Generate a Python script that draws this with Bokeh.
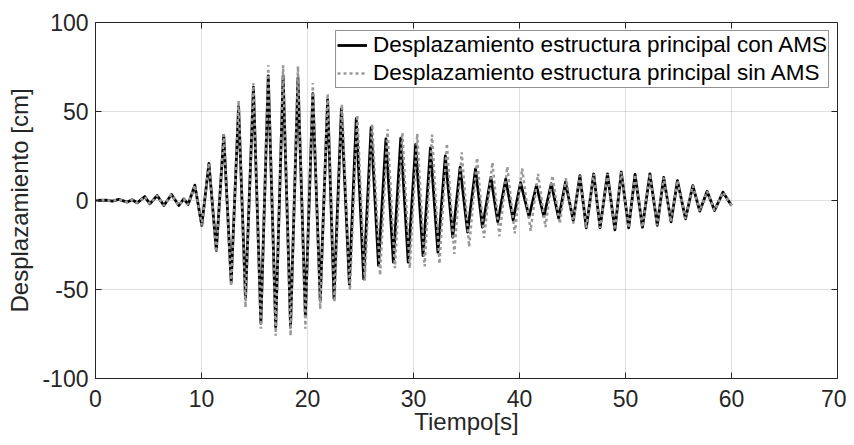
import math
from bokeh.plotting import figure
from bokeh.models import Range1d, FixedTicker, Legend, LegendItem
from bokeh.embed import file_html
from bokeh.resources import INLINE

# ---- data (extrema of each oscillation) ----
t_con = [0, 1.0, 1.6, 2.2, 3.0, 3.46, 3.93, 4.65, 5.13, 5.82, 6.45, 7.17, 7.86, 8.33, 8.74,
         9.37, 10.03, 10.7, 11.4, 12.1, 12.8, 13.5, 14.15, 14.9, 15.6, 16.3, 17.0, 17.7, 18.4,
         19.1, 19.8, 20.5, 21.2, 21.9, 22.5, 23.2, 23.95, 24.6, 25.3, 26.0, 26.7, 27.4, 28.1,
         28.8, 29.5, 30.2, 30.9, 31.6, 32.3, 33.0, 33.7, 34.4, 35.1, 35.85, 36.5, 37.3, 37.95,
         38.7, 39.4, 40.1, 40.9, 41.6, 42.3, 43.0, 43.7, 44.34, 45.07, 45.7, 46.3, 47.0, 47.6,
         48.3, 49.0, 49.6, 50.3, 50.9, 51.6, 52.3, 53.0, 53.6, 54.3, 54.9, 55.66, 56.35, 57.0,
         57.7, 58.4, 59.2, 60.0]
y_con = [0, 0.2, -0.3, 0.6, -0.9, 0.4, -1.3, 2.2, -1.9, 2.8, -2.8, 3.4, -2.8, 0.9, -2.2,
         8.6, -14, 20.8, -28, 36.5, -46, 53, -55, 63.7, -69, 70, -71, 70, -71,
         69, -65, 60, -56, 56.6, -55, 51.5, -47, 46, -44, 41, -36.5, 34.6, -34.6,
         35, -34.6, 31.5, -31, 29.5, -29, 25, -20.6, 18.7, -17.8, 17.8, -15, 13, -12,
         12, -11, 10, -9, 8.4, -9, 9.4, -10, 10.3, -11.2, 14, -15.4, 15, -15.4,
         15, -16.5, 16, -15.4, 14.6, -15, 15, -14, 13, -12, 11.2, -10.3, 8.4, -6,
         5.2, -5.6, 4.7, -2.8]

t_sin = [0, 1.0, 1.6, 2.2, 3.0, 3.46, 3.93, 4.65, 5.13, 5.82, 6.45, 7.17, 7.86, 8.33, 8.74,
         9.37, 10.03, 10.7, 11.4, 12.1, 12.8, 13.5, 14.15, 14.9, 15.6, 16.3, 17.0, 17.7, 18.4,
         19.1, 19.8, 20.5, 21.2, 21.9, 22.55, 23.25, 24.0, 24.7, 25.4, 26.1, 26.85, 27.55, 28.25,
         28.95, 29.65, 30.35, 31.05, 31.75, 32.45, 33.15, 33.85, 34.55, 35.25, 36.0, 36.65, 37.45, 38.1,
         38.85, 39.55, 40.25, 41.05, 41.75, 42.45, 43.1, 43.8, 44.4, 45.07, 45.7, 46.3, 47.0, 47.6,
         48.3, 49.0, 49.6, 50.3, 50.9, 51.6, 52.3, 53.0, 53.6, 54.3, 54.9, 55.66, 56.35, 57.0,
         57.7, 58.4, 59.2, 60.0]
y_sin = [0, 0.2, -0.3, 0.6, -0.9, 0.4, -1.3, 2.2, -1.9, 2.8, -2.8, 3.4, -2.8, 0.9, -2.2,
         8.6, -14, 21, -29, 37, -48, 56, -60, 66, -72, 76, -76, 76, -76,
         75.5, -72, 66, -61, 60, -57, 54, -50.5, 48, -45, 43, -42, 40, -38,
         38, -38, 37.5, -37, 37, -35.6, 32, -30, 27, -26, 24, -21, 21.5, -20,
         19, -18.5, 18, -17, 15, -15, 14, -13, 12.5, -13, 14, -15.4, 15, -15.4,
         15, -16.5, 16, -15.4, 14.6, -15, 15, -14, 13, -12, 11.2, -10.3, 8.4, -6,
         5.2, -5.6, 4.7, -2.8]

x_ticks = [0, 10, 20, 30, 40, 50, 60, 70]
y_ticks = [-100, -50, 0, 50, 100]
y_tick_labels = ["-100", "-50", "0", "50", "100"]
label_con = "Desplazamiento estructura principal con AMS"
label_sin = "Desplazamiento estructura principal sin AMS"
x_label = "Tiempo[s]"
y_label = "Desplazamiento [cm]"

FONT = "Liberation Sans"
AX = "#262626"
X0, X1, Y0, Y1 = 0, 70, -100, 100

p = figure(width=846, height=437, output_backend="svg", toolbar_location=None,
           x_range=Range1d(X0, X1), y_range=Range1d(Y0, Y1),
           min_border_left=95, min_border_right=9, min_border_top=22, min_border_bottom=59)
p.background_fill_color = "white"
p.border_fill_color = "white"
p.outline_line_color = AX
p.outline_line_width = 1

r_con = p.line(t_con, y_con, line_color="black", line_width=2.8, line_join="round")
r_sin = p.line(t_sin, y_sin, line_color="#999999", line_width=2.5, line_dash="3 3")

def style(ax, ticks):
    ax.ticker = FixedTicker(ticks=ticks)
    ax.axis_line_color = AX
    ax.major_tick_line_color = AX
    ax.major_tick_in = 6
    ax.major_tick_out = 0
    ax.minor_tick_line_color = None
    ax.major_label_text_font = FONT
    ax.major_label_text_font_size = "23px"
    ax.major_label_text_color = AX
    ax.axis_label_text_font = FONT
    ax.axis_label_text_font_size = "24px"
    ax.axis_label_text_font_style = "normal"
    ax.axis_label_text_color = AX

xa = p.xaxis[0]
style(xa, x_ticks)
xa.axis_label = x_label
xa.major_label_standoff = 11
xa.axis_label_standoff = -2

ya = p.yaxis[0]
style(ya, y_ticks)
ya.major_label_overrides = {t: s for t, s in zip(y_ticks, y_tick_labels)}
ya.axis_label = y_label
ya.major_label_standoff = 7
ya.axis_label_standoff = 6

# inward ticks on the top and right edges of the box
p.scatter(x_ticks, [Y1] * len(x_ticks), marker="dash", angle=math.pi / 2, size=12,
          line_color=AX, line_width=1)
p.scatter([X1] * len(y_ticks), y_ticks, marker="dash", angle=0, size=12,
          line_color=AX, line_width=1)

for g in (p.xgrid[0], p.ygrid[0]):
    g.grid_line_color = AX
    g.grid_line_alpha = 0.15
p.xgrid[0].ticker = FixedTicker(ticks=x_ticks)
p.ygrid[0].ticker = FixedTicker(ticks=y_ticks)

legend = Legend(items=[LegendItem(label=label_con, renderers=[r_con]),
                       LegendItem(label=label_sin, renderers=[r_sin])],
                location="top_right", margin=8, padding=1, spacing=2,
                label_standoff=6, glyph_width=30, glyph_height=24, label_height=24,
                label_text_font=FONT, label_text_font_size="22.5px", label_text_color="black",
                border_line_color=AX, border_line_width=1, background_fill_color="white",
                background_fill_alpha=1.0)
p.add_layout(legend)

open("out.html", "w").write(file_html(p, INLINE))
